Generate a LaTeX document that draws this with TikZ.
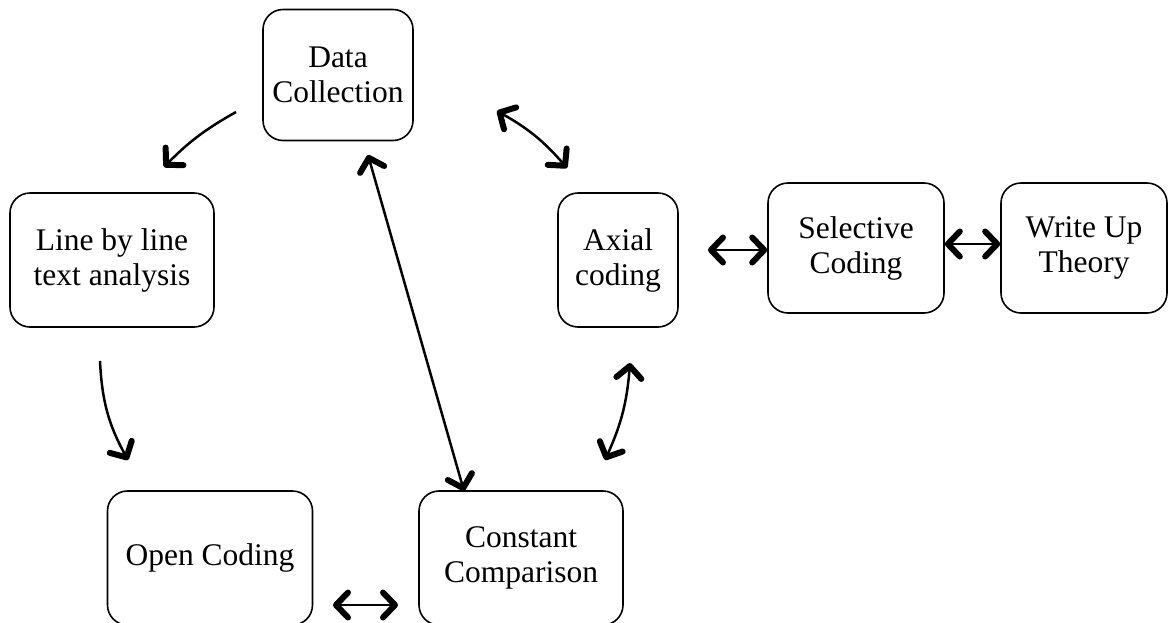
\documentclass[tikz,border=0pt]{standalone}
\usepackage{fontspec}
\setmainfont{Liberation Serif}
\usetikzlibrary{arrows.meta}

\begin{document}
\begin{tikzpicture}[x=1pt,y=-1pt,
    box/.style={draw,rounded corners=20pt,line width=1.6pt,align=center,inner sep=0pt,
        font=\fontsize{31.5}{35}\selectfont},
    link/.style={line width=2.5pt,{Straight Barb[length=12pt,width=25pt,line width=6pt,round]}-{Straight Barb[length=12pt,width=25pt,line width=6pt,round]}},
    oneway/.style={line width=2.5pt,-{Straight Barb[length=12pt,width=25pt,line width=6pt,round]}}]
\clip (0,0) rectangle (1168,622);
% process boxes
\node (dc) [box,minimum width=150pt,minimum height=131pt] at (338,75) {Data\\Collection};
\node (lbl) [box,minimum width=204pt,minimum height=134pt] at (112,260) {Line by line\\text analysis};
\node (axial) [box,minimum width=120pt,minimum height=134pt] at (618,260) {Axial\\coding};
\node (sel) [box,minimum width=176pt,minimum height=130pt] at (856,248) {Selective\\Coding};
\node (wut) [box,minimum width=166pt,minimum height=130pt] at (1084,248) {Write Up\\Theory};
\node (open) [box,minimum width=205pt,minimum height=134pt] at (210,558) {Open Coding};
\node (cc) [box,minimum width=204pt,minimum height=134pt] at (521,558) {Constant\\Comparison};
% loose arrow ends
\coordinate (dcl) at (236,112);
\coordinate (lbln) at (164,167);
\coordinate (dcr) at (497,111);
\coordinate (axn) at (567,168);
\coordinate (dcs) at (368,155);
\coordinate (ccn) at (464,491);
\coordinate (lbls) at (100,361);
\coordinate (openn) at (128,460);
\coordinate (axs) at (630,363);
\coordinate (ccr) at (605,460);
\coordinate (axe) at (708,250);
\coordinate (opene) at (333,605);
\coordinate (ccw) at (398,605);
% connectors
\draw[oneway] (dcl) to[bend right=8] (lbln);
\draw[link] (dcr) to[bend left=10] (axn);
\draw[link] (dcs) -- (ccn);
\draw[oneway] (lbls) to[bend right=13] (openn);
\draw[link] (axs) to[bend left=10] (ccr);
\draw[link] (axe) -- (axe -| sel.west);
\draw[link] ([yshift=4pt]sel.east) -- ([yshift=4pt]wut.west);
\draw[link] (opene) -- (ccw);
\end{tikzpicture}
\end{document}
